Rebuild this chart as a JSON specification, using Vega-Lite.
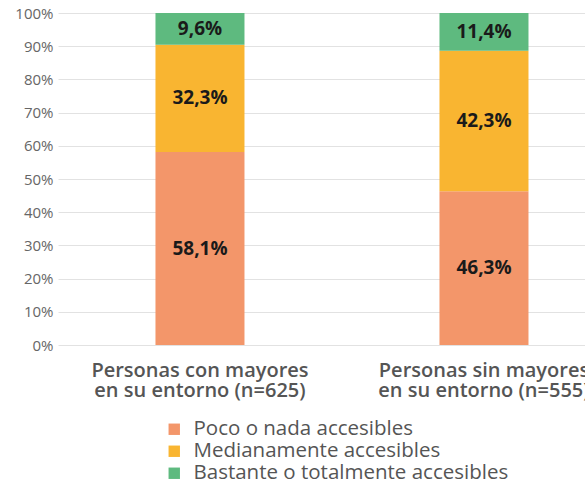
{
  "$schema": "https://vega.github.io/schema/vega-lite/v6.json",
  "autosize": "none",
  "padding": {"left": 58, "top": 13, "right": 0, "bottom": 139},
  "width": 527,
  "height": 332,
  "config": {
    "locale": {"number": {"decimal": ",", "thousands": ".", "grouping": [3], "currency": ["", " €"]}},
    "view": {"stroke": null},
    "font": "Open Sans"
  },
  "data": {
    "values": [
      {"grupo": "Personas con mayores en su entorno (n=625)", "nivel": "Poco o nada accesibles", "k": 1, "valor": 0.581},
      {"grupo": "Personas con mayores en su entorno (n=625)", "nivel": "Medianamente accesibles", "k": 2, "valor": 0.323},
      {"grupo": "Personas con mayores en su entorno (n=625)", "nivel": "Bastante o totalmente accesibles", "k": 3, "valor": 0.096},
      {"grupo": "Personas sin mayores en su entorno (n=555)", "nivel": "Poco o nada accesibles", "k": 1, "valor": 0.463},
      {"grupo": "Personas sin mayores en su entorno (n=555)", "nivel": "Medianamente accesibles", "k": 2, "valor": 0.423},
      {"grupo": "Personas sin mayores en su entorno (n=555)", "nivel": "Bastante o totalmente accesibles", "k": 3, "valor": 0.114}
    ]
  },
  "encoding": {
    "x": {
      "field": "grupo",
      "type": "nominal",
      "title": null,
      "scale": {"paddingInner": 0.6866, "paddingOuter": 0.2711, "align": 0.633},
      "axis": {
        "labelAngle": 0,
        "domain": false,
        "ticks": false,
        "labelPadding": 15,
        "labelFontSize": 20,
        "labelFontWeight": 600,
        "labelColor": "#555555",
        "labelLineHeight": 20,
        "labelLimit": 0,
        "labelOverlap": false,
        "labelBound": false,
        "labelExpr": "[slice(datum.value, 0, indexof(datum.value, ' en su')), slice(datum.value, indexof(datum.value, ' en su') + 1)]"
      }
    },
    "y": {
      "field": "valor",
      "type": "quantitative",
      "stack": "zero",
      "title": null,
      "scale": {"domain": [0, 1], "nice": false},
      "axis": {
        "values": [0, 0.1, 0.2, 0.3, 0.4, 0.5, 0.6, 0.7, 0.8, 0.9, 1],
        "format": ".0%",
        "domain": false,
        "ticks": false,
        "labelPadding": 5,
        "labelFontSize": 15,
        "labelColor": "#666666",
        "gridColor": "#e2e2e2",
        "gridWidth": 1
      }
    },
    "order": {"field": "k", "type": "quantitative"}
  },
  "layer": [
    {
      "mark": {"type": "bar"},
      "encoding": {
        "color": {
          "field": "nivel",
          "type": "nominal",
          "sort": ["Poco o nada accesibles", "Medianamente accesibles", "Bastante o totalmente accesibles"],
          "scale": {
            "domain": ["Poco o nada accesibles", "Medianamente accesibles", "Bastante o totalmente accesibles"],
            "range": ["#F3966A", "#F9B531", "#5EBA7F"]
          },
          "legend": {
            "title": null,
            "orient": "none",
            "legendX": 106,
            "legendY": 406,
            "direction": "vertical",
            "symbolType": "square",
            "symbolSize": 130,
            "symbolStrokeWidth": 0,
            "labelFontSize": 20.5,
            "labelColor": "#555555",
            "labelOffset": 9,
            "labelLimit": 0,
            "rowPadding": 1
          }
        }
      }
    },
    {
      "mark": {"type": "text", "fontSize": 19, "fontWeight": "bold", "color": "#1a1a1a", "baseline": "middle"},
      "encoding": {
        "y": {"field": "valor", "type": "quantitative", "stack": "zero", "bandPosition": 0.5},
        "text": {"field": "valor", "type": "quantitative", "format": ".1%"}
      }
    }
  ]
}
